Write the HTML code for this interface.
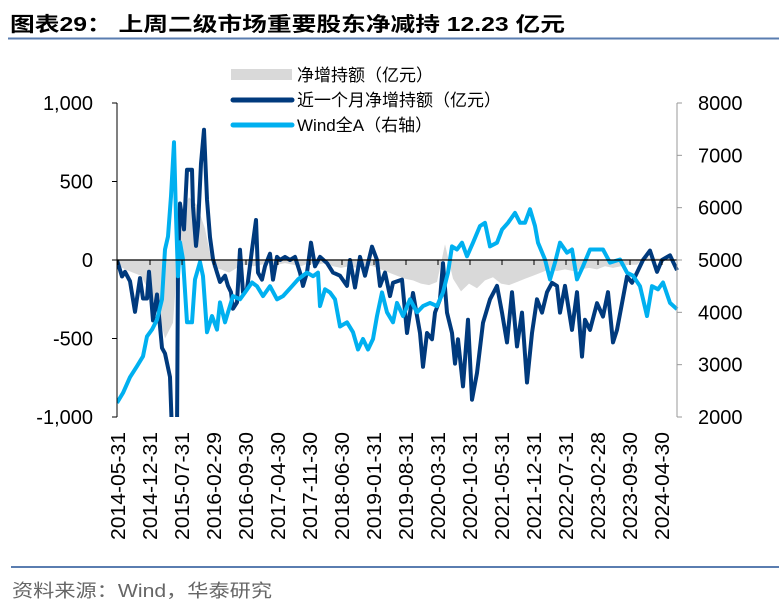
<!DOCTYPE html>
<html><head><meta charset="utf-8"><style>
html,body{margin:0;padding:0;background:#fff;}
svg{display:block;font-family:"Liberation Sans","Noto Sans CJK SC",sans-serif;}
</style></head><body>
<svg id="chart" width="779" height="605" viewBox="0 0 779 605" xmlns="http://www.w3.org/2000/svg">
<text x="10" y="31" font-size="20" font-weight="bold" fill="#000" textLength="555" lengthAdjust="spacingAndGlyphs">图表29： 上周二级市场重要股东净减持 12.23 亿元</text>
<line x1="8" y1="38.5" x2="779" y2="38.5" stroke="#5a7db0" stroke-width="2"/>
<g>
<rect x="231" y="69" width="61" height="11" fill="#d9d9d9"/>
<text x="297" y="81" font-size="17">净增持额（亿元）</text>
<line x1="233" y1="100" x2="292" y2="100" stroke="#003a7d" stroke-width="5" stroke-linecap="round"/>
<text x="297" y="106" font-size="17">近一个月净增持额（亿元）</text>
<line x1="233" y1="125" x2="292" y2="125" stroke="#00b0f0" stroke-width="5" stroke-linecap="round"/>
<text x="297" y="131" font-size="17">Wind全A（右轴）</text>
</g>
<defs><clipPath id="plotclip"><rect x="117" y="100" width="562" height="317"/></clipPath></defs>
<g id="plot" clip-path="url(#plotclip)"></g>
<g id="axes"></g>
<line x1="11" y1="567" x2="779" y2="567" stroke="#5a7db0" stroke-width="2"/>
<text x="12" y="597" font-size="18" fill="#666" textLength="260" lengthAdjust="spacingAndGlyphs">资料来源：Wind，华泰研究</text>
</svg>
<script>
// time in weeks since 2014-05-31
const dailyWeeks = [0,8,16,24,32,40,48,56,64,72,80,88,96,104,112,120,128,136,144,152,160,168,176,184,192,200,208,216,224,232,240,248,256,264,272,280,288,296,304,312,320,328,336,344,352,360,368,376,384,392,400,408,416,424,432,440,448,456,464,472,480,488,496,504,512,520,528,536,544,552,560];
const dailyNet = [-30,-60,-80,-100,-200,-300,-500,-400,300,400,350,200,-50,-60,-80,-50,-30,-40,-30,-20,-30,-20,-30,-40,-20,-30,-20,-40,-50,-40,-50,-30,-40,-60,-80,-100,-120,-130,-150,-160,-140,100,-120,-200,-150,-180,-130,-110,-150,-160,-140,-120,-100,-80,-60,-70,-60,-70,-60,-50,-60,-40,-50,-40,-30,-30,20,10,10,15,-5];
const monthlyWeeks = [0,5,8,13,18,23,26,30,32,36,40,45,48,53,55,60,61,63,67,70,75,76,79,81,84,87,90,93,96,100,103,108,111,114,116,120,123,126,130,135,139,141,145,148,153,156,160,163,168,173,178,183,186,190,194,198,203,210,216,223,230,233,238,243,248,255,260,263,268,273,276,285,290,296,303,306,310,315,318,323,326,330,335,338,341,346,351,355,360,366,373,380,385,390,395,400,405,410,415,420,425,430,435,440,443,448,455,460,465,468,473,480,486,491,496,500,505,510,515,520,526,533,540,545,553,560];
const monthlyNet = [0,-105,-75,-135,-330,-115,-245,-245,-75,-385,-220,-560,-595,-745,-1100,-1100,-40,360,195,575,575,340,90,215,615,830,385,145,5,-80,-140,-100,-165,-205,-310,-270,65,-205,-185,65,255,-80,-125,-40,40,-125,20,0,20,0,20,-80,-165,-80,110,-40,20,-20,-80,-100,-165,0,-175,20,-100,85,0,-165,-80,-230,-145,-125,-465,-210,-465,-680,-465,-505,-335,-250,-20,-335,-465,-660,-505,-805,-380,-890,-720,-400,-250,-165,-335,-525,-205,-550,-335,-780,-465,-250,-335,-205,-145,-165,-335,-165,-445,-205,-615,-380,-445,-275,-360,-205,-525,-445,-275,-105,-145,-80,0,60,-75,0,30,-65];
const windWeeks = [0,6,13,20,26,30,35,40,45,48,51,54,57,59,61,63,66,70,75,78,83,86,90,95,100,103,108,111,116,123,128,135,140,146,153,160,166,175,181,190,196,201,203,208,213,218,223,230,236,241,246,251,256,260,265,270,276,280,286,293,300,306,313,320,326,331,335,340,345,350,356,363,368,373,380,385,391,398,403,408,413,418,421,428,433,438,443,450,455,460,466,473,480,486,493,503,510,516,523,530,535,541,546,553,560];
const windIndex = [2270,2460,2760,2970,3160,3540,3670,3860,4250,5200,5450,6220,7250,5840,4690,5340,5010,3810,3810,4630,4960,4690,3620,3930,3670,4190,3810,4000,4310,4250,4380,4570,4500,4310,4500,4250,4310,4500,4630,4760,4690,4760,4120,4440,4380,4250,3730,3810,3620,3290,3490,3290,3490,3930,4380,4000,3810,4180,3930,4250,4000,4120,4180,4120,4380,4760,5260,5200,5330,5070,5330,5650,5710,5260,5330,5580,5710,5900,5710,5710,5970,5650,5330,5010,4630,4950,5330,5140,5200,4630,4880,5200,5200,5200,4950,5010,4760,4700,4500,3930,4500,4440,4570,4180,4060];
const leftTicks = [1000,500,0,-500,-1000];
const leftTickLabels = ["1,000","500","0","-500","-1,000"];
const rightTicks = [8000,7000,6000,5000,4000,3000,2000];
const xTickLabels = ["2014-05-31","2014-12-31","2015-07-31","2016-02-29","2016-09-30","2017-04-30","2017-11-30","2018-06-30","2019-01-31","2019-08-31","2020-03-31","2020-10-31","2021-05-31","2021-12-31","2022-07-31","2023-02-28","2023-09-30","2024-04-30"];
const xTickStep = 32; // weeks between labelled ticks

const NS = "http://www.w3.org/2000/svg";
const X0 = 117, X1 = 677, Y0 = 417, Y1 = 103;
const xScale = w => X0 + (w / 560) * (X1 - X0);
const yLeft = v => Y0 - (v + 1000) / 2000 * (Y0 - Y1);
const yRight = v => Y0 - (v - 2000) / 6000 * (Y0 - Y1);
const plot = document.getElementById('plot');
const axes = document.getElementById('axes');
function mk(tag, attrs, parent) {
  const el = document.createElementNS(NS, tag);
  for (const k in attrs) el.setAttribute(k, attrs[k]);
  parent.appendChild(el);
  return el;
}
// daily area
let n = Math.min(dailyWeeks.length, dailyNet.length);
let d = "M" + xScale(dailyWeeks[0]) + "," + yLeft(0);
for (let i = 0; i < n; i++) d += " L" + xScale(dailyWeeks[i]).toFixed(1) + "," + yLeft(dailyNet[i]).toFixed(1);
d += " L" + xScale(dailyWeeks[n - 1]) + "," + yLeft(0) + " Z";
const area = mk('path', {d: d, fill: '#d9d9d9', stroke: 'none'}, plot);


// zero line
const zl = mk('line', {x1: X0, y1: yLeft(0), x2: X1, y2: yLeft(0), stroke: '#000', 'stroke-width': 1.2}, axes);


function line(ws, vs, sc, color) {
  const m = Math.min(ws.length, vs.length);
  let p = "";
  for (let i = 0; i < m; i++) p += (i ? " L" : "M") + xScale(ws[i]).toFixed(1) + "," + sc(vs[i]).toFixed(1);
  return mk('path', {d: p, fill: 'none', stroke: color, 'stroke-width': 4, 'stroke-linejoin': 'round'}, plot);
}
const ml = line(monthlyWeeks, monthlyNet, yLeft, '#003a7d');


const wl = line(windWeeks, windIndex, yRight, '#00b0f0');


// left axis
const la = mk('line', {x1: X0, y1: Y1, x2: X0, y2: Y0, stroke: '#000', 'stroke-width': 1}, axes);


leftTicks.forEach((v, i) => {
  const t = mk('line', {x1: X0 - 5, y1: yLeft(v), x2: X0, y2: yLeft(v), stroke: '#000'}, axes);
  
  
  const tx = mk('text', {x: 93, y: yLeft(v) + 7, 'font-size': 20, 'text-anchor': 'end'}, axes);
  tx.textContent = leftTickLabels[i];
  
  
});
// right axis
const ra = mk('line', {x1: X1, y1: Y1, x2: X1, y2: Y0, stroke: '#999', 'stroke-width': 1}, axes);


rightTicks.forEach(v => {
  const t = mk('line', {x1: X1, y1: yRight(v), x2: X1 + 5, y2: yRight(v), stroke: '#999'}, axes);
  
  
  const tx = mk('text', {x: 698, y: yRight(v) + 7, 'font-size': 20}, axes);
  tx.textContent = v;
  
  
});
// x ticks & labels
xTickLabels.forEach((lab, i) => {
  const x = xScale(i * xTickStep) + 1;
  const t = mk('line', {x1: x, y1: yLeft(0), x2: x, y2: yLeft(0) + 5, stroke: '#000'}, axes);
  
  
  const tx = mk('text', {x: 0, y: 0, 'font-size': 20, 'text-anchor': 'end', textLength: 108, lengthAdjust: 'spacingAndGlyphs', transform: 'translate(' + (x + 7) + ',432) rotate(-90)'}, axes);
  tx.textContent = lab;
  
  
});
</script>
</body></html>
